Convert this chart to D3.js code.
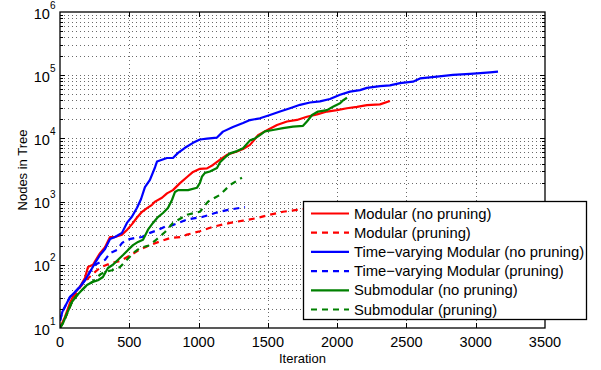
<!DOCTYPE html>
<html>
<head>
<meta charset="utf-8">
<script src="https://cdn.jsdelivr.net/npm/d3@7"></script>
<style>
    body { margin: 0; background: #fff; }
    svg { font-family: "Liberation Sans", Arial, Helvetica, sans-serif; }
</style>
</head>
<body>
<div id="chart"></div>
<script>
// data: [iteration, nodes in tree]
var modularNoPruning = [[0,10],[36,15],[72,25],[108,36],[144,45],[180,62],[202,92],[238,100],[267,128],[289,153],[325,190],[361,275],[397,275],[447,300],[483,355],[520,440],[556,560],[592,690],[628,790],[664,890],[686,1000],[736,1150],[772,1350],[815,1520],[866,1960],[917,2450],[960,2950],[1010,3300],[1061,3350],[1104,3800],[1155,4600],[1205,5500],[1277,6200],[1321,6800],[1371,7900],[1429,11200],[1494,13500],[1566,16300],[1638,18500],[1710,19600],[1782,22000],[1855,24000],[1927,26600],[1999,28000],[2071,30000],[2143,31600],[2215,33700],[2309,34500],[2381,39000]];

var modularPruning = [[0,10],[36,14],[72,22],[108,33],[144,44],[180,55],[238,72],[289,90],[361,105],[433,115],[505,140],[577,175],[650,205],[722,235],[794,265],[866,275],[917,300],[1010,340],[1104,400],[1227,460],[1321,500],[1422,550],[1515,620],[1609,690],[1710,740],[1800,780]];

var timeVaryingNoPruning = [[0,13],[17,18],[72,31],[108,37],[144,45],[180,57],[216,77],[253,107],[289,143],[325,178],[361,256],[397,275],[447,320],[483,460],[520,580],[556,800],[585,1100],[613,1700],[649,2200],[686,3500],[700,4300],[736,4600],[772,4900],[815,4900],[852,5900],[902,7100],[960,8500],[1010,9600],[1061,9900],[1133,10300],[1176,12800],[1248,15200],[1321,17500],[1371,19500],[1443,20800],[1515,23400],[1588,26600],[1660,30000],[1732,34000],[1804,37000],[1876,38500],[1948,42000],[2021,49000],[2093,55000],[2165,58000],[2215,63000],[2309,67000],[2381,69000],[2454,75000],[2547,79000],[2598,89000],[2634,91000],[2721,95000],[2836,101000],[2959,105000],[3009,107000],[3103,111000],[3161,114000]];

var timeVaryingPruning = [[0,13],[17,18],[72,31],[108,37],[144,45],[180,57],[216,77],[253,100],[289,110],[325,120],[361,153],[411,172],[447,220],[483,250],[541,265],[592,275],[649,320],[707,355],[758,400],[808,420],[917,520],[1025,570],[1119,660],[1212,740],[1335,820]];

var submodularNoPruning = [[0,10],[22,12],[51,17],[87,26],[123,33],[159,40],[195,48],[231,53],[274,57],[310,64],[346,89],[382,100],[419,120],[455,143],[491,172],[527,205],[563,230],[599,250],[635,360],[671,460],[707,570],[743,660],[779,790],[808,1060],[830,1420],[852,1520],[924,1520],[989,1660],[1010,1980],[1025,2500],[1046,2850],[1082,3000],[1133,3400],[1155,4200],[1191,5000],[1227,5800],[1277,6300],[1321,7000],[1371,9300],[1407,10000],[1443,11300],[1479,12900],[1537,13600],[1609,14500],[1681,15400],[1754,15800],[1782,18500],[1819,23500],[1862,26600],[1927,28000],[1970,31600],[2021,36000],[2042,40000],[2071,44000]];

var submodularPruning = [[0,10],[22,12],[51,17],[87,26],[123,33],[159,40],[195,48],[231,53],[289,70],[325,77],[375,82],[433,92],[483,120],[527,153],[577,185],[635,200],[686,240],[758,330],[815,460],[917,620],[1010,690],[1068,1000],[1155,1280],[1227,1830],[1313,2400]];

var seriesNames = [
    "Modular (no pruning)",
    "Modular (pruning)",
    "Time\u2212varying Modular (no pruning)",
    "Time\u2212varying Modular (pruning)",
    "Submodular (no pruning)",
    "Submodular (pruning)"
];
var seriesColors = ["#ff0000", "#ff0000", "#0000ff", "#0000ff", "#008000", "#008000"];
var seriesDashed = [false, true, false, true, false, true];

var xTicks = [0, 500, 1000, 1500, 2000, 2500, 3000, 3500];
var yExponents = [1, 2, 3, 4, 5, 6];

var series = [modularNoPruning, modularPruning, timeVaryingNoPruning,
              timeVaryingPruning, submodularNoPruning, submodularPruning];

var W = 601, H = 370;
var plot = { left: 60, right: 545, top: 12, bottom: 328 };

var svg = d3.select('#chart').append('svg')
    .attr('width', W)
    .attr('height', H);

var x = d3.scaleLinear().domain([0, 3500]).range([plot.left, plot.right]);
var y = d3.scaleLog().domain([10, 1e6]).range([plot.bottom, plot.top]);

// all the log grid values 1..9 x 10^k
var yGrid = [];
yExponents.slice(0, -1).forEach(e => {
    for (var m = 1; m <= 9; m++) yGrid.push(m * Math.pow(10, e));
});
yGrid.push(1e6);

// dotted grid
var grid = svg.append('g').attr('class', 'grid')
    .attr('stroke', '#444')
    .attr('stroke-width', 0.8)
    .attr('stroke-dasharray', '1,3');

grid.selectAll('.hgrid')
    .data(yGrid.filter(v => v > 10 && v < 1e6))
    .enter().append('line')
    .attr('class', 'hgrid')
    .attr('x1', plot.left).attr('x2', plot.right)
    .attr('y1', d => Math.round(y(d)) + 0.5)
    .attr('y2', d => Math.round(y(d)) + 0.5);

grid.selectAll('.vgrid')
    .data(xTicks.slice(1, -1))
    .enter().append('line')
    .attr('class', 'vgrid')
    .attr('y1', plot.top).attr('y2', plot.bottom)
    .attr('x1', d => Math.round(x(d)) + 0.5)
    .attr('x2', d => Math.round(x(d)) + 0.5);

// curves
var line = d3.line()
    .x(d => x(d[0]))
    .y(d => y(d[1]));

svg.append('defs').append('clipPath').attr('id', 'clip')
    .append('rect')
    .attr('x', plot.left).attr('y', plot.top)
    .attr('width', plot.right - plot.left)
    .attr('height', plot.bottom - plot.top);

var curves = svg.append('g').attr('clip-path', 'url(#clip)');
curves.selectAll('.curve')
    .data(series)
    .enter().append('path')
    .attr('class', 'curve')
    .attr('fill', 'none')
    .attr('stroke', (d, i) => seriesColors[i])
    .attr('stroke-width', 2.2)
    .attr('stroke-linejoin', 'round')
    .attr('stroke-dasharray', (d, i) => seriesDashed[i] ? '6,5' : null)
    .attr('d', line);

// axes box and inward ticks
var axes = svg.append('g').attr('stroke', '#000').attr('stroke-width', 1);

xTicks.slice(1, -1).forEach(t => {
    var px = Math.round(x(t)) + 0.5;
    axes.append('line').attr('x1', px).attr('x2', px)
        .attr('y1', plot.bottom).attr('y2', plot.bottom - 5);
    axes.append('line').attr('x1', px).attr('x2', px)
        .attr('y1', plot.top).attr('y2', plot.top + 5);
});

yGrid.filter(v => v > 10 && v < 1e6).forEach(v => {
    var py = Math.round(y(v)) + 0.5;
    var major = Math.abs(Math.log10(v) - Math.round(Math.log10(v))) < 1e-9;
    var len = major ? 5 : 3;
    axes.append('line').attr('x1', plot.left).attr('x2', plot.left + len)
        .attr('y1', py).attr('y2', py);
    axes.append('line').attr('x1', plot.right).attr('x2', plot.right - len)
        .attr('y1', py).attr('y2', py);
});

axes.append('rect')
    .attr('x', plot.left).attr('y', plot.top)
    .attr('width', plot.right - plot.left)
    .attr('height', plot.bottom - plot.top)
    .attr('fill', 'none')
    .attr('stroke-width', 1.3);

// tick labels
svg.append('g').selectAll('.xlabel')
    .data(xTicks)
    .enter().append('text')
    .attr('class', 'xlabel')
    .attr('x', d => x(d))
    .attr('y', plot.bottom + 19)
    .attr('text-anchor', 'middle')
    .attr('font-size', 14.5)
    .text(d => d);

var ylab = svg.append('g').selectAll('.ylabel')
    .data(yExponents)
    .enter().append('text')
    .attr('class', 'ylabel')
    .attr('x', plot.left - 4.5)
    .attr('y', d => y(Math.pow(10, d)) + 6.5)
    .attr('text-anchor', 'end')
    .attr('font-size', 14.5);
ylab.append('tspan').text('10');
ylab.append('tspan')
    .attr('dy', -10)
    .attr('font-size', 10)
    .text(d => d);

// axis titles
svg.append('text')
    .attr('x', (plot.left + plot.right) / 2)
    .attr('y', 363)
    .attr('text-anchor', 'middle')
    .attr('font-size', 13)
    .text('Iteration');

svg.append('text')
    .attr('transform', 'translate(27,' + ((plot.top + plot.bottom) / 2) + ') rotate(-90)')
    .attr('text-anchor', 'middle')
    .attr('font-size', 13)
    .text('Nodes in Tree');

// legend
var legend = svg.append('g').attr('class', 'legend');
legend.append('rect')
    .attr('x', 303.5).attr('y', 201.5)
    .attr('width', 283).attr('height', 118)
    .attr('fill', '#fff')
    .attr('stroke', '#000')
    .attr('stroke-width', 1.3);

var rows = legend.selectAll('.row')
    .data(seriesNames)
    .enter().append('g')
    .attr('class', 'row')
    .attr('transform', (d, i) => 'translate(0,' + (213.5 + i * 19.2) + ')');

rows.append('line')
    .attr('x1', 311).attr('x2', 349)
    .attr('y1', 0).attr('y2', 0)
    .attr('stroke', (d, i) => seriesColors[i])
    .attr('stroke-width', 2.2)
    .attr('stroke-dasharray', (d, i) => seriesDashed[i] ? '6,5' : null);

rows.append('text')
    .attr('x', 354)
    .attr('y', 5)
    .attr('font-size', 14.8)
    .text(d => d);
</script>
</body>
</html>
